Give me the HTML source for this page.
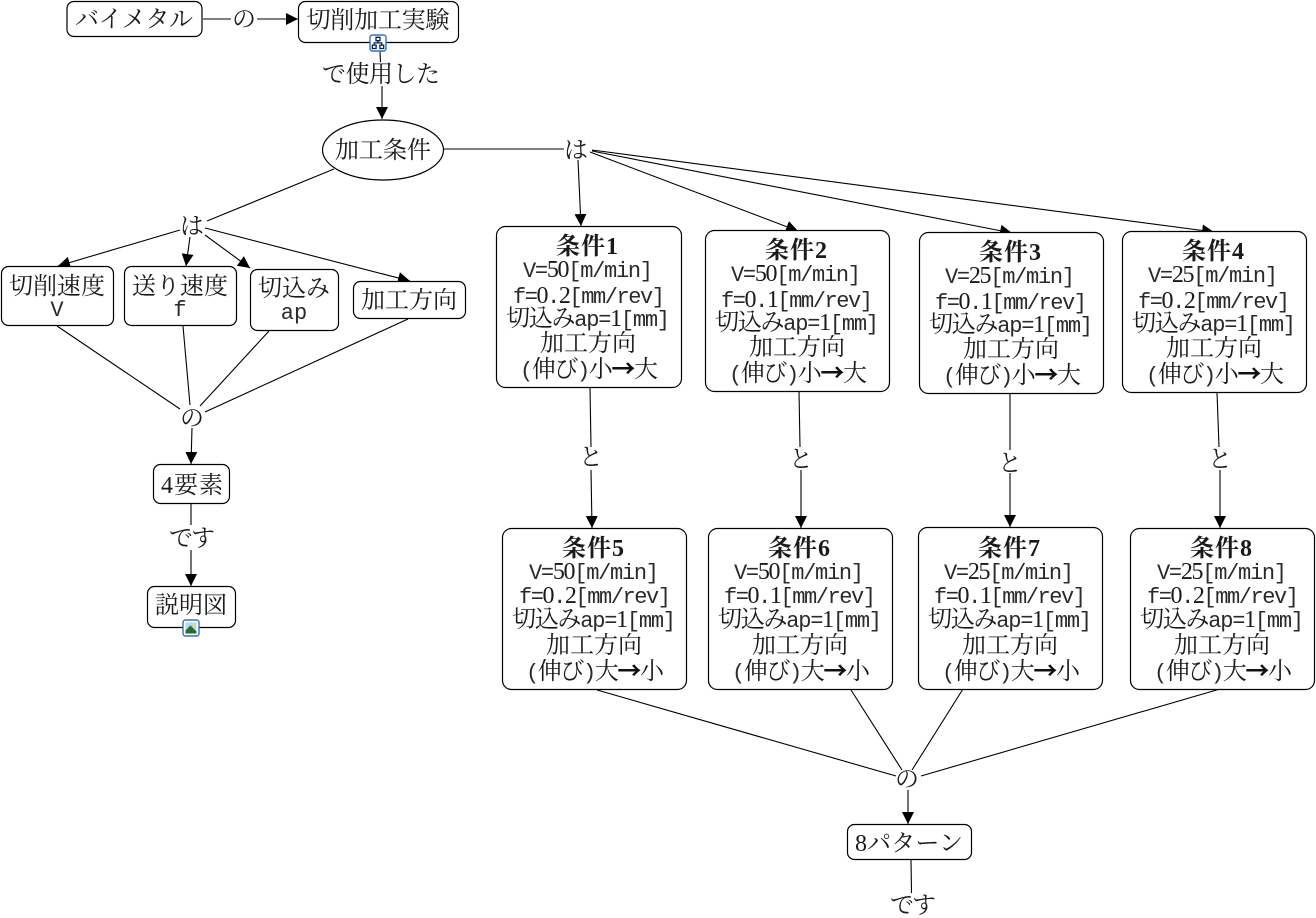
<!DOCTYPE html>
<html lang="ja"><head><meta charset="utf-8"><title>加工条件</title>
<style>
html,body{margin:0;padding:0;background:#fff}
svg{display:block;position:absolute;left:0;top:0}
text{font-family:"Liberation Serif","Noto Serif CJK SC",serif;font-size:24px;fill:#1a1a1a;text-anchor:middle}
.m{font-family:"Liberation Mono",monospace;font-size:22px;fill:#2a2a2a}
.b{font-weight:700}
.k{font-family:"Noto Sans CJK JP",sans-serif;font-weight:700;fill:#111}
rect.n{fill:#fff;stroke:#000;stroke-width:1.2}
line{stroke:#000;stroke-width:1.1}
line.a{marker-end:url(#ah)}
</style></head><body>
<svg width="1316" height="918" viewBox="0 0 1316 918" xmlns="http://www.w3.org/2000/svg">
<defs>
<marker id="ah" markerUnits="userSpaceOnUse" markerWidth="14" markerHeight="14" refX="12" refY="6" orient="auto"><path d="M0,0L12,6L0,12Z" fill="#000"/></marker>
</defs>
<!-- connectors -->
<line x1="203" y1="19" x2="231" y2="19"/><line class="a" x1="257" y1="19" x2="298" y2="19"/>
<line x1="380" y1="51" x2="380.5" y2="62"/><line class="a" x1="382" y1="86" x2="382" y2="119"/>
<line x1="443" y1="149" x2="564" y2="149"/>
<line class="a" x1="578" y1="160" x2="581" y2="226"/>
<line class="a" x1="590" y1="152" x2="798" y2="231"/>
<line class="a" x1="592" y1="151" x2="1012" y2="233"/>
<line class="a" x1="592" y1="150" x2="1214" y2="232"/>
<line x1="334" y1="169" x2="207" y2="221"/>
<line class="a" x1="180" y1="230" x2="58" y2="266"/>
<line class="a" x1="190" y1="237" x2="186" y2="266"/>
<line class="a" x1="205" y1="235" x2="250" y2="268"/>
<line class="a" x1="205" y1="228" x2="410" y2="281"/>
<line x1="57" y1="326" x2="180" y2="409"/>
<line x1="183" y1="326" x2="190" y2="405"/>
<line x1="269" y1="331" x2="200" y2="406"/>
<line x1="408" y1="319" x2="205" y2="412"/>
<line class="a" x1="192" y1="428" x2="191" y2="464"/>
<line x1="191" y1="504" x2="191" y2="525"/><line class="a" x1="191" y1="550" x2="191" y2="586"/>
<line x1="590" y1="387" x2="591" y2="447"/><line class="a" x1="591" y1="470" x2="592" y2="528"/>
<line x1="799" y1="391" x2="800" y2="447"/><line class="a" x1="801" y1="470" x2="801" y2="528"/>
<line x1="1010" y1="393" x2="1010" y2="450"/><line class="a" x1="1010" y1="473" x2="1010" y2="527"/>
<line x1="1217" y1="392" x2="1219" y2="447"/><line class="a" x1="1220" y1="470" x2="1220" y2="528"/>
<line x1="597" y1="690" x2="896" y2="776"/>
<line x1="851" y1="690" x2="902" y2="770"/>
<line x1="963" y1="689" x2="912" y2="770"/>
<line x1="1220" y1="689" x2="921" y2="776"/>
<line class="a" x1="908" y1="790" x2="908" y2="824"/>
<line x1="911" y1="860" x2="911.5" y2="893"/>

<!-- simple nodes -->
<rect class="n" x="67" y="1.5" width="135" height="35" rx="7"/><text x="134" y="27" textLength="118">バイメタル</text>
<rect class="n" x="298.5" y="1.5" width="160" height="41" rx="7"/><text x="378" y="28" textLength="143">切削加工実験</text>
<ellipse cx="383" cy="150" rx="60.5" ry="30" fill="#fff" stroke="#000" stroke-width="1.2"/><text x="383" y="158" textLength="96">加工条件</text>
<rect class="n" x="1.5" y="266.5" width="112" height="59" rx="7"/><text x="57" y="294" textLength="96">切削速度</text><text x="57" y="316"><tspan class="m">V</tspan></text>
<rect class="n" x="124.5" y="266.5" width="112" height="59" rx="7"/><text x="180" y="294" textLength="96">送り速度</text><text x="180" y="316"><tspan class="m">f</tspan></text>
<rect class="n" x="250.5" y="269.5" width="88" height="61" rx="7"/><text x="294" y="296" textLength="72">切込み</text><text x="294" y="319"><tspan class="m">ap</tspan></text>
<rect class="n" x="353.5" y="281.5" width="112" height="37" rx="7"/><text x="409" y="308" textLength="96">加工方向</text>
<rect class="n" x="153.5" y="464.5" width="76" height="39" rx="7"/><text x="192" y="493" textLength="62">4要素</text>
<rect class="n" x="147.5" y="586.5" width="88" height="41" rx="7"/><text x="191" y="613" textLength="72">説明図</text>
<rect class="n" x="847.5" y="824.5" width="124" height="35" rx="7"/><text x="909" y="851" textLength="108">8パターン</text>

<!-- labels -->
<g>
<text x="244" y="27">の</text>
<text x="381" y="82" textLength="118">で使用した</text>
<text x="576" y="158">は</text>
<text x="192" y="234">は</text>
<text x="192" y="426">の</text>
<text x="192" y="546" textLength="46">です</text>
<text x="591" y="465">と</text><text x="801" y="467">と</text><text x="1010" y="471">と</text><text x="1220" y="467">と</text>
<text x="907" y="787">の</text>
<text x="913" y="913" textLength="46">です</text>
</g>

<!-- condition 1 -->
<g transform="translate(496,226)"><rect class="n" x=".5" y=".5" width="185" height="161" rx="9"/>
<text class="b" x="91" y="28" textLength="62">条件1</text>
<text x="92" y="51" textLength="130"><tspan class="m">V=</tspan>50<tspan class="m">[m/min]</tspan></text>
<text x="93" y="77" textLength="152"><tspan class="m">f=</tspan>0<tspan class="m">.</tspan>2<tspan class="m">[mm/rev]</tspan></text>
<text x="92" y="100" textLength="164">切込み<tspan class="m">ap=</tspan>1<tspan class="m">[mm]</tspan></text>
<text x="92" y="125" textLength="96">加工方向</text>
<text x="93" y="151" textLength="138"><tspan class="m">(</tspan>伸び<tspan class="m">)</tspan>小<tspan class="k">→</tspan>大</text></g>
<!-- condition 2 -->
<g transform="translate(705,230)"><rect class="n" x=".5" y=".5" width="184" height="161" rx="9"/>
<text class="b" x="91" y="28" textLength="62">条件2</text>
<text x="91" y="51" textLength="130"><tspan class="m">V=</tspan>50<tspan class="m">[m/min]</tspan></text>
<text x="92" y="77" textLength="152"><tspan class="m">f=</tspan>0<tspan class="m">.</tspan>1<tspan class="m">[mm/rev]</tspan></text>
<text x="92" y="100" textLength="164">切込み<tspan class="m">ap=</tspan>1<tspan class="m">[mm]</tspan></text>
<text x="92" y="125" textLength="96">加工方向</text>
<text x="93" y="151" textLength="138"><tspan class="m">(</tspan>伸び<tspan class="m">)</tspan>小<tspan class="k">→</tspan>大</text></g>
<!-- condition 3 -->
<g transform="translate(919,232)"><rect class="n" x=".5" y=".5" width="184" height="161" rx="9"/>
<text class="b" x="91" y="28" textLength="62">条件3</text>
<text x="91" y="51" textLength="130"><tspan class="m">V=</tspan>25<tspan class="m">[m/min]</tspan></text>
<text x="92" y="77" textLength="152"><tspan class="m">f=</tspan>0<tspan class="m">.</tspan>1<tspan class="m">[mm/rev]</tspan></text>
<text x="92" y="100" textLength="164">切込み<tspan class="m">ap=</tspan>1<tspan class="m">[mm]</tspan></text>
<text x="92" y="125" textLength="96">加工方向</text>
<text x="93" y="151" textLength="138"><tspan class="m">(</tspan>伸び<tspan class="m">)</tspan>小<tspan class="k">→</tspan>大</text></g>
<!-- condition 4 -->
<g transform="translate(1122,231)"><rect class="n" x=".5" y=".5" width="184" height="161" rx="9"/>
<text class="b" x="91" y="28" textLength="62">条件4</text>
<text x="91" y="51" textLength="130"><tspan class="m">V=</tspan>25<tspan class="m">[m/min]</tspan></text>
<text x="92" y="77" textLength="152"><tspan class="m">f=</tspan>0<tspan class="m">.</tspan>2<tspan class="m">[mm/rev]</tspan></text>
<text x="92" y="100" textLength="164">切込み<tspan class="m">ap=</tspan>1<tspan class="m">[mm]</tspan></text>
<text x="92" y="125" textLength="96">加工方向</text>
<text x="93" y="151" textLength="138"><tspan class="m">(</tspan>伸び<tspan class="m">)</tspan>小<tspan class="k">→</tspan>大</text></g>
<!-- condition 5 -->
<g transform="translate(502,528)"><rect class="n" x=".5" y=".5" width="184" height="161" rx="9"/>
<text class="b" x="91" y="28" textLength="62">条件5</text>
<text x="92" y="51" textLength="130"><tspan class="m">V=</tspan>50<tspan class="m">[m/min]</tspan></text>
<text x="93" y="75" textLength="152"><tspan class="m">f=</tspan>0<tspan class="m">.</tspan>2<tspan class="m">[mm/rev]</tspan></text>
<text x="92" y="99" textLength="164">切込み<tspan class="m">ap=</tspan>1<tspan class="m">[mm]</tspan></text>
<text x="92" y="125" textLength="96">加工方向</text>
<text x="93" y="151" textLength="138"><tspan class="m">(</tspan>伸び<tspan class="m">)</tspan>大<tspan class="k">→</tspan>小</text></g>
<!-- condition 6 -->
<g transform="translate(708,528)"><rect class="n" x=".5" y=".5" width="184" height="161" rx="9"/>
<text class="b" x="91" y="28" textLength="62">条件6</text>
<text x="91" y="51" textLength="130"><tspan class="m">V=</tspan>50<tspan class="m">[m/min]</tspan></text>
<text x="92" y="75" textLength="152"><tspan class="m">f=</tspan>0<tspan class="m">.</tspan>1<tspan class="m">[mm/rev]</tspan></text>
<text x="92" y="99" textLength="164">切込み<tspan class="m">ap=</tspan>1<tspan class="m">[mm]</tspan></text>
<text x="92" y="125" textLength="96">加工方向</text>
<text x="93" y="151" textLength="138"><tspan class="m">(</tspan>伸び<tspan class="m">)</tspan>大<tspan class="k">→</tspan>小</text></g>
<!-- condition 7 -->
<g transform="translate(918,527)"><rect class="n" x=".5" y=".5" width="184" height="162" rx="9"/>
<text class="b" x="91" y="29" textLength="62">条件7</text>
<text x="91" y="52" textLength="130"><tspan class="m">V=</tspan>25<tspan class="m">[m/min]</tspan></text>
<text x="92" y="76" textLength="152"><tspan class="m">f=</tspan>0<tspan class="m">.</tspan>1<tspan class="m">[mm/rev]</tspan></text>
<text x="92" y="100" textLength="164">切込み<tspan class="m">ap=</tspan>1<tspan class="m">[mm]</tspan></text>
<text x="92" y="126" textLength="96">加工方向</text>
<text x="93" y="152" textLength="138"><tspan class="m">(</tspan>伸び<tspan class="m">)</tspan>大<tspan class="k">→</tspan>小</text></g>
<!-- condition 8 -->
<g transform="translate(1130,528)"><rect class="n" x=".5" y=".5" width="184" height="161" rx="9"/>
<text class="b" x="91" y="28" textLength="62">条件8</text>
<text x="92" y="51" textLength="130"><tspan class="m">V=</tspan>25<tspan class="m">[m/min]</tspan></text>
<text x="93" y="75" textLength="152"><tspan class="m">f=</tspan>0<tspan class="m">.</tspan>2<tspan class="m">[mm/rev]</tspan></text>
<text x="92" y="99" textLength="164">切込み<tspan class="m">ap=</tspan>1<tspan class="m">[mm]</tspan></text>
<text x="92" y="125" textLength="96">加工方向</text>
<text x="93" y="151" textLength="138"><tspan class="m">(</tspan>伸び<tspan class="m">)</tspan>大<tspan class="k">→</tspan>小</text></g>

<!-- icons -->
<g transform="translate(369.5,34.5)">
<rect x=".5" y=".5" width="16" height="16" rx="2.5" fill="#fff" stroke="#2f74c0" stroke-width="1.4"/>
<path d="M6.5,2.8h4v3.4h-4zM2.8,10.6h3.8v3.4H2.8zM10.4,10.6h3.8v3.4h-3.8zM8.5,6.2v2.2M4.7,10.6V8.4h7.6v2.2" fill="none" stroke="#0d2050" stroke-width="1.3"/>
</g>
<g transform="translate(182.5,619.5)">
<rect x=".5" y=".5" width="16" height="16" rx="2.5" fill="#fff" stroke="#2f74c0" stroke-width="1.4"/>
<rect x="3" y="3" width="11" height="11" fill="#b5d5ee"/>
<path d="M3,14L3,11L8,6L14,12V14Z" fill="#1f6e34"/><circle cx="11.5" cy="5.5" r="1.6" fill="#f0d860"/>
</g>
</svg>
</body></html>
